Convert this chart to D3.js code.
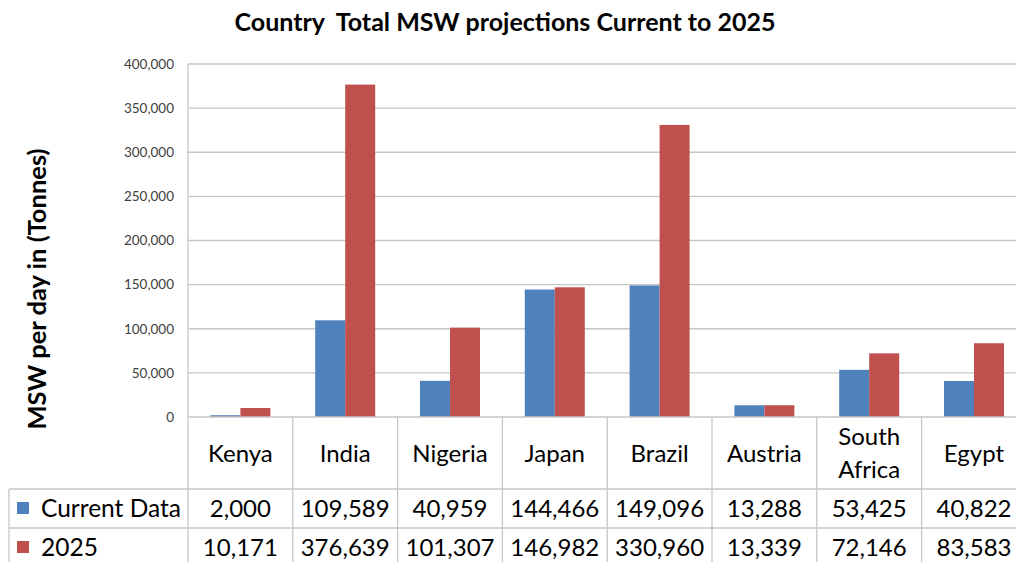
<!DOCTYPE html>
<html>
<head>
<meta charset="utf-8">
<script src="https://cdn.jsdelivr.net/npm/d3@7"></script>
<style>
  body { margin: 0; background: #fff; }
  svg { display: block; font-family: Lato, "Open Sans", sans-serif; }
</style>
</head>
<body>
<svg id="chart" width="1016" height="562"></svg>
<script>
// chart data
var countries = ["Kenya", "India", "Nigeria", "Japan", "Brazil", "Austria", "South Africa", "Egypt"];
var currentData = [2000, 109589, 40959, 144466, 149096, 13288, 53425, 40822];
var data2025 = [10171, 376639, 101307, 146982, 330960, 13339, 72146, 83583];
var seriesNames = ["Current Data", "2025"];
var yTicks = [0, 50000, 100000, 150000, 200000, 250000, 300000, 350000, 400000];

var colors = ["#4f81bd", "#c0504d"];
var series = [currentData, data2025];

var svg = d3.select("#chart");
var plotLeft = 188, plotTop = 64, zeroY = 417;
var colW = 104.8;
var plotRight = plotLeft + colW * countries.length;
var rowTop = [417, 489, 528, 567];
var legendLeft = 9;

var x = d3.scaleBand().domain(countries).range([plotLeft, plotRight]).padding(0);
var xs = d3.scaleBand().domain(seriesNames).range([-30, 30]).padding(0);
var y = d3.scaleLinear().domain([0, 400000]).range([zeroY, plotTop]);
var fmt = d3.format(",");

// gridlines
svg.append("g").selectAll("line")
    .data(yTicks.slice(1))
    .enter().append("line")
    .attr("x1", plotLeft).attr("x2", 1016)
    .attr("y1", function(d) { return y(d); })
    .attr("y2", function(d) { return y(d); })
    .attr("stroke", "#c6c6c6").attr("stroke-width", 1.3);

// y axis
var yAxis = d3.axisLeft(y).tickValues(yTicks).tickFormat(fmt).tickSize(0).tickPadding(14);
var ag = svg.append("g").attr("transform", "translate(" + plotLeft + ",0)").call(yAxis);
ag.select(".domain").remove();
ag.selectAll("text").attr("font-size", 13.5).attr("fill", "#404040")
    .attr("font-family", "Lato, sans-serif");

// bars
var groups = svg.append("g").selectAll("g")
    .data(countries)
    .enter().append("g")
    .attr("transform", function(d) { return "translate(" + (x(d) + x.bandwidth() / 2) + ",0)"; });

groups.selectAll("rect")
    .data(function(d, i) { return series.map(function(s, j) { return { k: seriesNames[j], v: s[i], c: colors[j] }; }); })
    .enter().append("rect")
    .attr("x", function(d) { return xs(d.k); })
    .attr("width", xs.bandwidth())
    .attr("y", function(d) { return y(d.v); })
    .attr("height", function(d) { return zeroY - y(d.v); })
    .attr("fill", function(d) { return d.c; });

// data table lines
var grid = svg.append("g").attr("stroke", "#c6c6c6").attr("stroke-width", 1.3);
grid.append("line").attr("x1", plotLeft).attr("x2", plotLeft).attr("y1", plotTop).attr("y2", 562);
grid.append("line").attr("x1", plotLeft).attr("x2", 1016).attr("y1", zeroY).attr("y2", zeroY);
[rowTop[1], rowTop[2]].forEach(function(yy) {
    grid.append("line").attr("x1", legendLeft).attr("x2", 1016).attr("y1", yy).attr("y2", yy);
});
grid.append("line").attr("x1", legendLeft).attr("x2", legendLeft).attr("y1", rowTop[1]).attr("y2", 562);
grid.selectAll(".col").data(countries.slice(1))
    .enter().append("line")
    .attr("x1", function(d) { return x(d); })
    .attr("x2", function(d) { return x(d); })
    .attr("y1", zeroY).attr("y2", 562);

// category labels
var cat = svg.append("g").selectAll("text")
    .data(countries)
    .enter().append("text")
    .attr("text-anchor", "middle")
    .attr("font-size", 24)
    .attr("fill", "#000");
cat.each(function(d) {
    var t = d3.select(this);
    var cx = x(d) + x.bandwidth() / 2;
    var words = d.split(" ");
    if (words.length > 1) {
        words.forEach(function(w, i) {
            t.append("tspan").attr("x", cx).attr("y", 445 + i * 33).text(w);
        });
    } else {
        t.attr("x", cx).attr("y", 462).text(d);
    }
});

// table values + legend
series.forEach(function(s, j) {
    var baseY = rowTop[j + 1] + 28;
    svg.append("rect").attr("x", 17).attr("y", rowTop[j + 1] + 13)
        .attr("width", 12).attr("height", 12).attr("fill", colors[j]);
    svg.append("text").attr("x", 41).attr("y", baseY)
        .attr("font-size", 24.5).text(seriesNames[j]);
    svg.append("g").selectAll("text")
        .data(s)
        .enter().append("text")
        .attr("x", function(d, i) { return x(countries[i]) + x.bandwidth() / 2; })
        .attr("y", baseY)
        .attr("text-anchor", "middle")
        .attr("font-size", 24)
        .text(function(d) { return fmt(d); });
});

// title
svg.append("text").attr("x", 505).attr("y", 31).attr("text-anchor", "middle")
    .attr("font-size", 25).attr("font-weight", "bold")
    .attr("xml:space", "preserve")
    .text("Country  Total MSW projections Current to 2025");

// y label
svg.append("text").attr("transform", "translate(46,289) rotate(-90)")
    .attr("text-anchor", "middle").attr("font-size", 25.5).attr("font-weight", "bold")
    .text("MSW per day in (Tonnes)");
</script>
</body>
</html>
